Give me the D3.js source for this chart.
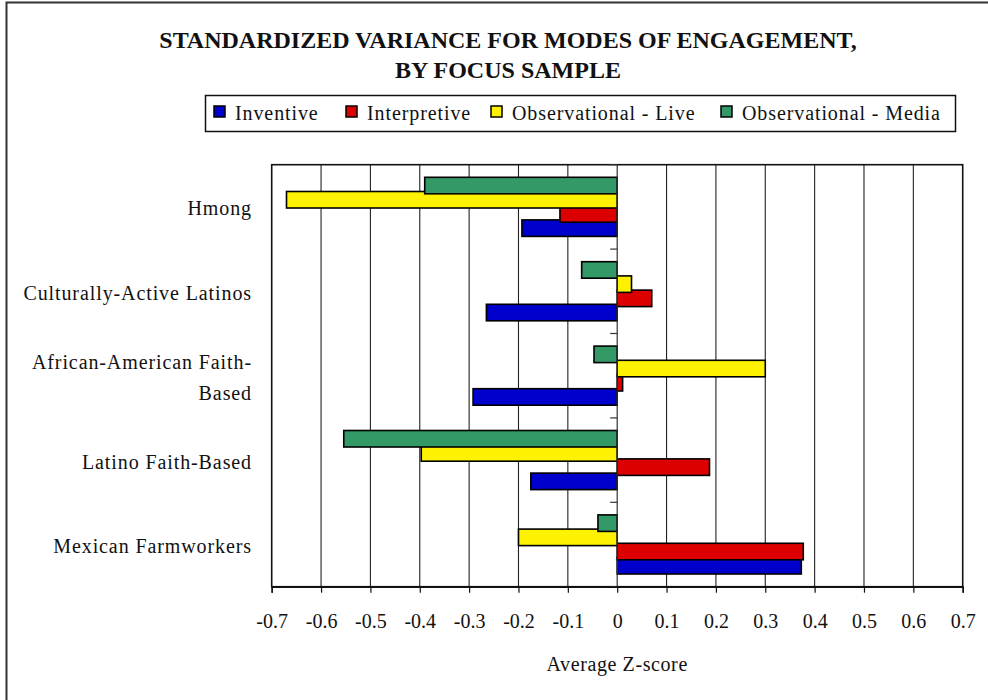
<!DOCTYPE html>
<html>
<head>
<meta charset="utf-8">
<script src="https://cdn.jsdelivr.net/npm/d3@7"></script>
<style>
  body { margin: 0; background: #fff; overflow: hidden; }
  svg { display: block; }
  svg text { font-family: "Liberation Serif", "Times New Roman", serif; fill: #111; }
</style>
</head>
<body>
<div id="chart"></div>
<script>

// categories, top to bottom
var categories = ["Hmong", "Culturally-Active Latinos", "African-American Faith-Based", "Latino Faith-Based", "Mexican Farmworkers"];
var categoryLines = [["Hmong"], ["Culturally-Active Latinos"], ["African-American Faith-", "Based"], ["Latino Faith-Based"], ["Mexican Farmworkers"]];

// series (legend order)
var seriesNames = ["Inventive", "Interpretive", "Observational - Live", "Observational - Media"];
var seriesColors = ["#0000cc", "#dd0000", "#fff200", "#339966"];

// values per series, same order as categories
var inventive    = [-0.193, -0.265, -0.292, -0.175, 0.373];
var interpretive = [-0.116,  0.070,  0.011,  0.187, 0.377];
var obsLive      = [-0.670,  0.029,  0.300, -0.397, -0.200];
var obsMedia     = [-0.390, -0.072, -0.047, -0.554, -0.039];
var seriesValues = [inventive, interpretive, obsLive, obsMedia];

var xTicks = [-0.7, -0.6, -0.5, -0.4, -0.3, -0.2, -0.1, 0, 0.1, 0.2, 0.3, 0.4, 0.5, 0.6, 0.7];

//====================================================================================

var W = 988, H = 700;
var plot = {left: 271.7, right: 962.7, top: 164.7, bottom: 586.7};

var svg = d3.select("#chart").append("svg")
    .attr("width", W)
    .attr("height", H);

// outer frame (right / bottom run off the picture)
svg.append("rect")
    .attr("x", 6.5).attr("y", 2.5)
    .attr("width", 1200).attr("height", 900)
    .attr("fill", "#fff")
    .attr("stroke", "#333")
    .attr("stroke-width", 2);

// title
svg.append("text")
    .attr("x", 508).attr("y", 48)
    .attr("text-anchor", "middle")
    .style("font-weight", "bold").style("font-size", "24px")
    .text("STANDARDIZED VARIANCE FOR MODES OF ENGAGEMENT,");
svg.append("text")
    .attr("x", 508).attr("y", 78)
    .attr("text-anchor", "middle")
    .style("font-weight", "bold").style("font-size", "24px")
    .text("BY FOCUS SAMPLE");

// scales
var x = d3.scaleLinear().domain([-0.7, 0.7]).range([plot.left, plot.right]);
var y = d3.scaleBand().domain(categories).range([plot.top, plot.bottom]);

// bars inside a band, top to bottom: media, live, interpretive, inventive
var barOrder = [3, 2, 1, 0];
var step = 14.2, barH = 16.5, groupOff = 12.6;
var yInner = d3.scaleBand().domain(barOrder).range([groupOff, groupOff + step * 4]);

// grid lines
svg.append("g").selectAll("line")
    .data(xTicks.filter(function(t){ return t > -0.7 && t < 0.7 && t !== 0; }))
  .enter().append("line")
    .attr("x1", function(d){ return x(d); })
    .attr("x2", function(d){ return x(d); })
    .attr("y1", plot.top).attr("y2", plot.bottom)
    .attr("stroke", "#222").attr("stroke-width", 1.1);

// plot frame
svg.append("rect")
    .attr("x", plot.left).attr("y", plot.top)
    .attr("width", plot.right - plot.left).attr("height", plot.bottom - plot.top)
    .attr("fill", "none")
    .attr("stroke", "#111").attr("stroke-width", 1.6);

// bars: draw inventive first so the upper bars sit on top
var bars = svg.append("g");
[0, 1, 2, 3].forEach(function(s){
  bars.selectAll("rect.s" + s)
      .data(seriesValues[s])
    .enter().append("rect")
      .attr("class", "s" + s)
      .attr("x", function(d){ return x(Math.min(0, d)); })
      .attr("width", function(d){ return Math.abs(x(d) - x(0)); })
      .attr("y", function(d, i){ return y(categories[i]) + yInner(s); })
      .attr("height", barH)
      .attr("fill", seriesColors[s])
      .attr("stroke", "#000").attr("stroke-width", 1.6);
});

// zero axis with category ticks
svg.append("line")
    .attr("x1", x(0)).attr("x2", x(0))
    .attr("y1", plot.top).attr("y2", plot.bottom)
    .attr("stroke", "#333").attr("stroke-width", 1.2);
var bounds = categories.map(function(c){ return y(c); }).concat([plot.bottom]);
svg.append("g").selectAll("line")
    .data(bounds)
  .enter().append("line")
    .attr("x1", x(0) - 7).attr("x2", x(0))
    .attr("y1", function(d){ return d; }).attr("y2", function(d){ return d; })
    .attr("stroke", "#333").attr("stroke-width", 1.2);

// bottom axis
var xAxis = d3.axisBottom(x)
    .tickValues(xTicks)
    .tickSize(6)
    .tickPadding(21)
    .tickFormat(function(d){ return d === 0 ? "0" : d3.format(".1f")(d).replace("\u2212", "-"); });
var gx = svg.append("g")
    .attr("transform", "translate(0," + plot.bottom + ")")
    .call(xAxis);
gx.select(".domain").attr("stroke", "#111").attr("stroke-width", 1.6);
gx.selectAll(".tick line").attr("stroke", "#111").attr("stroke-width", 1.2);
gx.selectAll(".tick text")
    .style("font-family", "Liberation Serif, serif")
    .style("font-size", "20px").attr("fill", "#111")
    .attr("dy", "0.71em");

svg.append("text")
    .attr("x", (plot.left + plot.right) / 2).attr("y", 671)
    .attr("text-anchor", "middle")
    .style("font-size", "20px")
    .style("letter-spacing", "0.6px")
    .text("Average Z-score");

// category labels
categoryLines.forEach(function(lines, i){
  var cy = y(categories[i]) + y.bandwidth() / 2;
  var n = lines.length;
  lines.forEach(function(t, k){
    svg.append("text")
        .attr("x", 252).attr("y", cy + 8.5 + (k - (n - 1) / 2) * 31)
        .attr("text-anchor", "end")
        .style("font-size", "20px")
        .style("letter-spacing", "0.9px")
        .text(t);
  });
});

// legend
var legend = svg.append("g");
legend.append("rect")
    .attr("x", 205.5).attr("y", 95.5)
    .attr("width", 750).attr("height", 36)
    .attr("fill", "#fff").attr("stroke", "#111").attr("stroke-width", 1.5);
var legendX = [214, 346, 491, 721];
seriesNames.forEach(function(name, s){
  legend.append("rect")
      .attr("x", legendX[s]).attr("y", 106)
      .attr("width", 11).attr("height", 11)
      .attr("fill", seriesColors[s])
      .attr("stroke", "#000").attr("stroke-width", 1.5);
  legend.append("text")
      .attr("x", legendX[s] + 21).attr("y", 119.5)
      .style("font-size", "20px")
      .style("letter-spacing", "0.9px")
      .text(name);
});

</script>
</body>
</html>
